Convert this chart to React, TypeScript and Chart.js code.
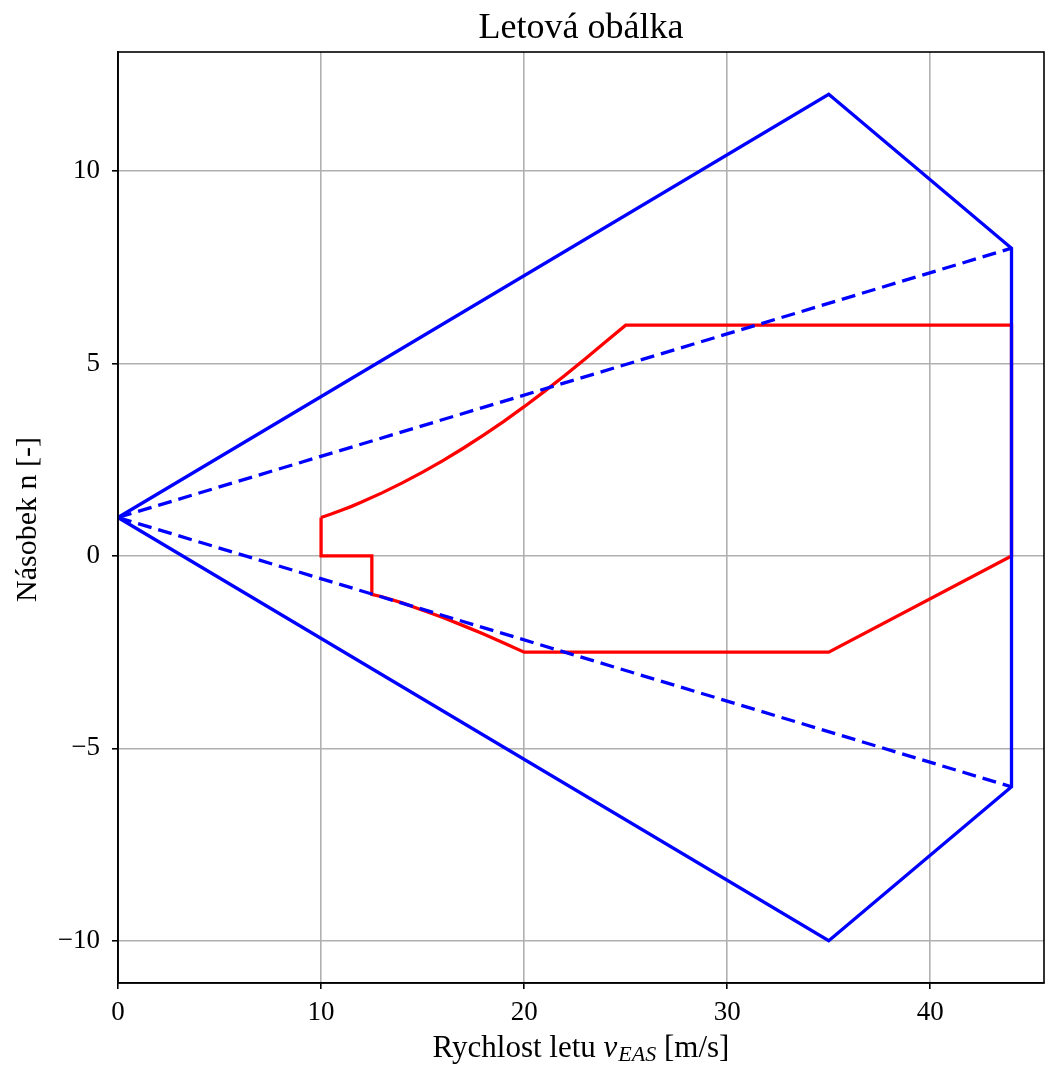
import React, { useEffect, useRef } from "react";
import { Chart, registerables } from "chart.js";

Chart.register(...registerables);

const envelopeX = [0, 35, 44, 44, 35, 0];
const envelopeY = [1, 12, 8, -6, -10, 1];

const gustUpX = [0, 44];
const gustUpY = [1, 8];
const gustDownX = [0, 44];
const gustDownY = [1, -6];

const maneuverX = [
  10, 10.5, 11, 11.5, 12, 13, 14, 15, 16, 17, 18, 19, 20, 21, 22, 23, 24, 25,
  44, 44, 35, 20, 19, 18, 17, 16, 15, 14, 13, 12.5, 12.5, 10, 10,
];
const maneuverY = [
  1.0, 1.09, 1.19, 1.29, 1.4, 1.64, 1.9, 2.18, 2.48, 2.8, 3.14, 3.5, 3.88, 4.28, 4.69, 5.12, 5.56, 6.0,
  6.0, 0, -2.5, -2.5, -2.26, -2.03, -1.81, -1.6, -1.41, -1.22, -1.06, -1.0, 0, 0, 1.0,
];

const xTicks = [0, 10, 20, 30, 40];
const yTicks = [-10, -5, 0, 5, 10];

const titleText = "Letová obálka";
const yLabel = "Násobek n [-]";
const xLabelMain = "Rychlost letu ";
const xLabelVar = "v";
const xLabelSub = "EAS";
const xLabelUnit = " [m/s]";

const FONT = "'Liberation Serif', 'DejaVu Serif', serif";

const toPts = (xs: number[], ys: number[]) => xs.map((x, i) => ({ x, y: ys[i] }));

const fmt = (v: number) => (v < 0 ? "\u2212" + Math.abs(v) : String(v));

const App: React.FC = () => {
  const ref = useRef<HTMLCanvasElement | null>(null);

  useEffect(() => {
    if (!ref.current) return;
    const decor = {
      id: "decor",
      afterDraw(chart: any) {
        const { ctx, chartArea } = chart;
        const { left, right, top, bottom } = chartArea;
        ctx.save();
        ctx.strokeStyle = "#000";
        ctx.lineWidth = 1.6;
        ctx.strokeRect(left, top, right - left, bottom - top);
        ctx.fillStyle = "#000";
        // title
        ctx.font = `36px ${FONT}`;
        ctx.textAlign = "center";
        ctx.textBaseline = "alphabetic";
        ctx.fillText(titleText, (left + right) / 2, 38);
        // x label
        const fs = 31;
        const fsSub = 22;
        ctx.font = `${fs}px ${FONT}`;
        const w1 = ctx.measureText(xLabelMain).width;
        ctx.font = `italic ${fs}px ${FONT}`;
        const w2 = ctx.measureText(xLabelVar).width + 1;
        ctx.font = `italic ${fsSub}px ${FONT}`;
        const w3 = ctx.measureText(xLabelSub).width;
        ctx.font = `${fs}px ${FONT}`;
        const w4 = ctx.measureText(xLabelUnit).width;
        const total = w1 + w2 + w3 + w4;
        let x = (left + right) / 2 - total / 2;
        const by = 1057;
        ctx.textAlign = "left";
        ctx.font = `${fs}px ${FONT}`;
        ctx.fillText(xLabelMain, x, by);
        x += w1;
        ctx.font = `italic ${fs}px ${FONT}`;
        ctx.fillText(xLabelVar, x, by);
        x += w2;
        ctx.font = `italic ${fsSub}px ${FONT}`;
        ctx.fillText(xLabelSub, x, by + 4);
        x += w3;
        ctx.font = `${fs}px ${FONT}`;
        ctx.fillText(xLabelUnit, x, by);
        // y label
        ctx.save();
        ctx.translate(36, (top + bottom) / 2 + 2);
        ctx.rotate(-Math.PI / 2);
        ctx.textAlign = "center";
        ctx.font = `30px ${FONT}`;
        ctx.fillText(yLabel, 0, 0);
        ctx.restore();
        ctx.restore();
      },
    };

    const lw = 3.3;
    const chart = new Chart(ref.current, {
      type: "scatter",
      data: {
        datasets: [
          {
            data: toPts(envelopeX, envelopeY),
            showLine: true,
            borderColor: "#0000ff",
            borderWidth: lw,
            pointRadius: 0,
          },
          {
            data: toPts(gustUpX, gustUpY),
            showLine: true,
            borderColor: "#0000ff",
            borderWidth: lw,
            borderDash: [14, 7],
            pointRadius: 0,
          },
          {
            data: toPts(gustDownX, gustDownY),
            showLine: true,
            borderColor: "#0000ff",
            borderWidth: lw,
            borderDash: [14, 7],
            pointRadius: 0,
          },
          {
            data: toPts(maneuverX, maneuverY),
            showLine: true,
            borderColor: "#ff0000",
            borderWidth: lw,
            pointRadius: 0,
            fill: false,
          },
        ],
      },
      options: {
        animation: false,
        responsive: false,
        maintainAspectRatio: false,
        layout: { padding: { top: 52, right: 1, left: 0, bottom: 0 } },
        plugins: { legend: { display: false }, tooltip: { enabled: false }, title: { display: false } },
        scales: {
          x: {
            type: "linear",
            min: 0,
            max: 45.6,
            afterBuildTicks: (s: any) => {
              s.ticks = xTicks.map((v) => ({ value: v }));
            },
            afterFit: (s: any) => {
              s.height = 83;
            },
            ticks: {
              color: "#000",
              font: { family: FONT, size: 27 },
              padding: 8,
              callback: (v: any) => fmt(Number(v)),
            },
            grid: { color: "#b0b0b0", lineWidth: 1.6, tickColor: "#000", tickLength: 6, drawTicks: true },
            border: { display: true, color: "#000", width: 1.6 },
          },
          y: {
            type: "linear",
            min: -11.1,
            max: 13.1,
            afterBuildTicks: (s: any) => {
              s.ticks = yTicks.map((v) => ({ value: v }));
            },
            afterFit: (s: any) => {
              s.width = 118;
            },
            ticks: {
              color: "#000",
              font: { family: FONT, size: 27 },
              padding: 12,
              callback: (v: any) => fmt(Number(v)),
            },
            grid: { color: "#b0b0b0", lineWidth: 1.6, tickColor: "#000", tickLength: 6, drawTicks: true },
            border: { display: true, color: "#000", width: 1.6 },
          },
        },
      },
      plugins: [decor],
    });
    return () => chart.destroy();
  }, []);

  return (
    <div style={{ position: "absolute", left: 0, top: 0, width: 1045, height: 1066, background: "#fff" }}>
      <canvas ref={ref} width={1045} height={1066} style={{ width: 1045, height: 1066 }} />
    </div>
  );
};

export default App;
